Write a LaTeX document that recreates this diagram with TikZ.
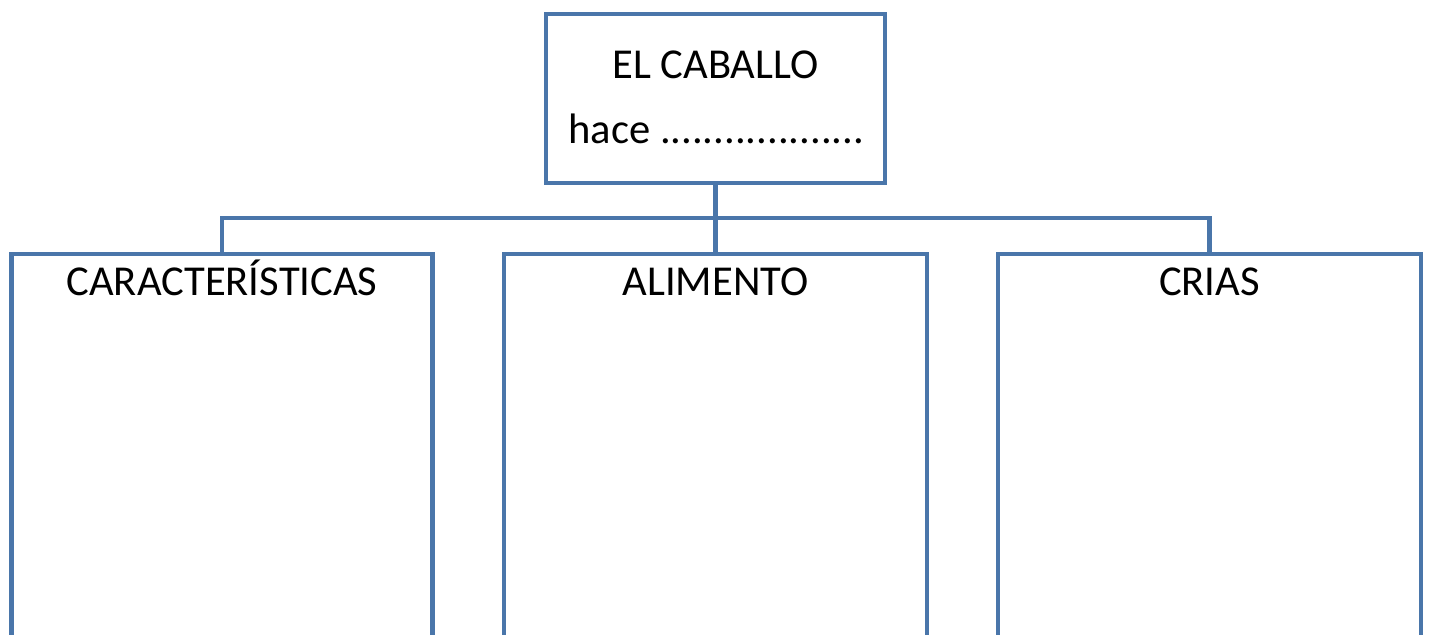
\documentclass[tikz,border=0pt]{standalone}
\usepackage{fontspec}
\setmainfont{Carlito}
\definecolor{boxblue}{RGB}{74,118,170}
\tikzset{
  box/.style={draw=boxblue, line width=2.25pt, rectangle, inner sep=0pt, fill=none},
  conn/.style={draw=boxblue, line width=2.25pt, line join=miter},
  lab/.style={font=\fontsize{21.3pt}{25pt}\selectfont, anchor=base, inner sep=0pt, text=black}
}
\begin{document}
\begin{tikzpicture}[x=0.5pt, y=-0.5pt]
\useasboundingbox (0,0) rectangle (1431,635);
\clip (0,0) rectangle (1431,635);
\node[box, minimum width=169.5pt, minimum height=84.5pt] (top) at (715.5,98.5) {};
\node[box, minimum width=210.5pt, minimum height=223pt] (car) at (222,477) {};
\node[box, minimum width=211.5pt, minimum height=223pt] (ali) at (715.5,477) {};
\node[box, minimum width=211.5pt, minimum height=223pt] (cri) at (1209.5,477) {};
\coordinate (j) at (715.5,218);
\draw[conn] (top.south) -- (ali.north);
\draw[conn] (car.north) |- (j) -| (cri.north);
\node[lab] (t1) at (715.5,79) {EL CABALLO};
\node[lab, anchor=base west] (t2) at (568,144) {hace ...................};
\node[lab] (l1) at (222,296) {CARACTERÍSTICAS};
\node[lab] (l2) at (715.5,296) {ALIMENTO};
\node[lab] (l3) at (1209.5,296) {CRIAS};
\end{tikzpicture}
\end{document}
